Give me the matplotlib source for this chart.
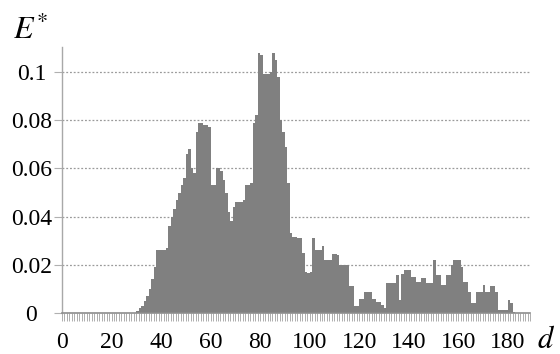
import numpy as np
import matplotlib
matplotlib.use("Agg")
import matplotlib.pyplot as plt
from matplotlib.ticker import MultipleLocator

# histogram heights E* for d = 30 .. 182 (one bin per unit of d)
d_start = 30
heights = [
    0.001, 0.002, 0.003, 0.005, 0.007, 0.010, 0.014, 0.019, 0.026, 0.026,   # 30-39
    0.026, 0.026, 0.027, 0.036, 0.040, 0.043, 0.047, 0.050, 0.053, 0.056,   # 40-49
    0.066, 0.068, 0.060, 0.058, 0.075, 0.079, 0.079, 0.078, 0.078, 0.077,   # 50-59
    0.053, 0.053, 0.060, 0.060, 0.059, 0.055, 0.050, 0.042, 0.038, 0.044,   # 60-69
    0.046, 0.046, 0.046, 0.047, 0.053, 0.053, 0.054, 0.079, 0.082, 0.108,   # 70-79
    0.107, 0.099, 0.099, 0.099, 0.100, 0.108, 0.105, 0.098, 0.080, 0.075,   # 80-89
    0.069, 0.054, 0.033, 0.0315, 0.0315, 0.031, 0.031, 0.025, 0.017, 0.0166,  # 90-99
    0.017, 0.031, 0.026, 0.026, 0.026, 0.028, 0.022, 0.022, 0.022, 0.0245,  # 100-109
    0.0245, 0.024, 0.020, 0.020, 0.020, 0.020, 0.011, 0.011, 0.003, 0.003,  # 110-119
    0.006, 0.006, 0.0088, 0.0088, 0.0088, 0.006, 0.006, 0.0045, 0.0045, 0.0035,  # 120-129
    0.002, 0.0125, 0.0125, 0.0125, 0.0125, 0.0158, 0.0054, 0.016, 0.018, 0.018,  # 130-139
    0.018, 0.015, 0.015, 0.013, 0.013, 0.0145, 0.0145, 0.0124, 0.0124, 0.0124,  # 140-149
    0.022, 0.0158, 0.0158, 0.0116, 0.0116, 0.0158, 0.0158, 0.020, 0.022, 0.022,  # 150-159
    0.022, 0.019, 0.013, 0.013, 0.0087, 0.004, 0.004, 0.0087, 0.0087, 0.0087,  # 160-169
    0.0116, 0.0087, 0.0087, 0.011, 0.011, 0.0087, 0.0012, 0.0012, 0.0012, 0.0012,  # 170-179
    0.0054, 0.0042, 0.0005,                                                  # 180-182
]
x_ticks = [0, 20, 40, 60, 80, 100, 120, 140, 160, 180]
y_ticks = [0, 0.02, 0.04, 0.06, 0.08, 0.1]
y_labels = ["0", "0.02", "0.04", "0.06", "0.08", "0.1"]

d = np.arange(d_start, d_start + len(heights))

plt.rcParams["font.family"] = ["Liberation Serif", "DejaVu Serif"]
plt.rcParams["mathtext.fontset"] = "stix"

fig = plt.figure(figsize=(5.6, 3.54), dpi=100)
ax = fig.add_axes([62 / 560, 1 - 313 / 354, (530 - 62) / 560, (313 - 47) / 354])

ax.bar(d, heights, width=1.0, align="edge", color="#808080", edgecolor="none", zorder=2)

ax.set_xlim(0, 189)
ax.set_ylim(0, 0.1104)

# dotted grid at the nonzero levels
for yv in y_ticks[1:]:
    ax.axhline(yv, color="#9a9a9a", lw=0.9, ls=(0, (1.5, 1.5)), zorder=1)

for s in ("top", "right"):
    ax.spines[s].set_visible(False)
ax.spines["left"].set_color("#a8a8a8")
ax.spines["bottom"].set_color("#8c8c8c")
ax.spines["left"].set_linewidth(1.0)
ax.spines["bottom"].set_linewidth(1.2)

ax.set_xticks(x_ticks)
ax.xaxis.set_minor_locator(MultipleLocator(1))
ax.tick_params(axis="x", which="both", length=6, width=0.6, color="#a0a0a0",
               labelsize=17, pad=8)
ax.set_yticks(y_ticks)
ax.set_yticklabels(y_labels)
ax.tick_params(axis="y", length=6, width=0.8, color="#b0b0b0", labelsize=17, pad=16)
for lbl in ax.get_yticklabels():
    lbl.set_horizontalalignment("center")

fig.text(13 / 560, 1 - 39 / 354, r"$E^{*}$", fontsize=23, ha="left", va="baseline")
fig.text(537 / 560, 1 - 348 / 354, r"$d$", fontsize=22, ha="left", va="baseline")

fig.savefig("out.png", dpi=100)
